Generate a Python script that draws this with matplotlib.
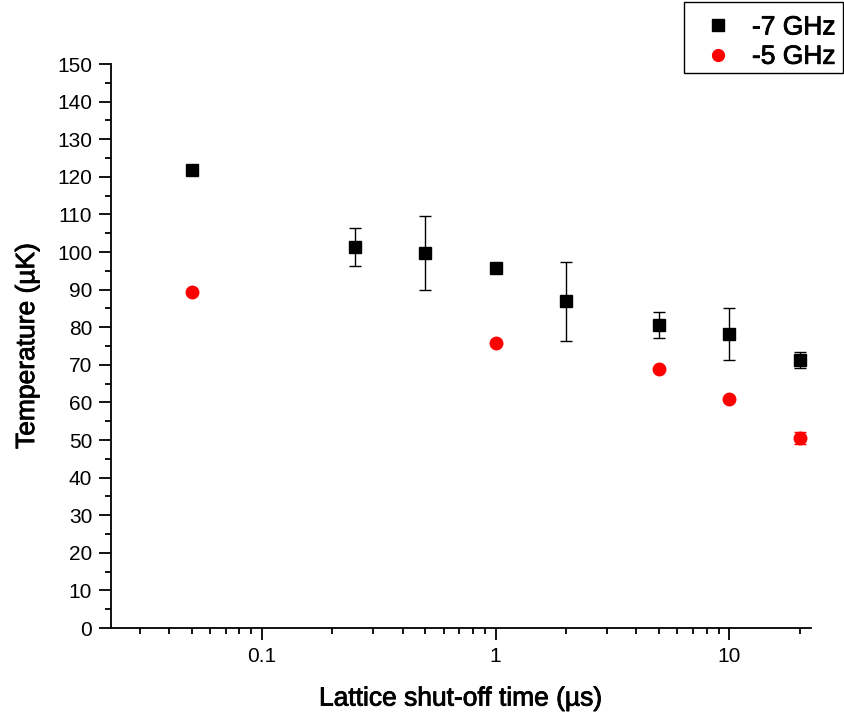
import matplotlib
matplotlib.use("Agg")
import matplotlib.pyplot as plt
import matplotlib.patheffects as pe
from matplotlib.lines import Line2D
from matplotlib.patches import Rectangle
from matplotlib.ticker import FixedLocator, LogLocator, NullFormatter, FuncFormatter

plt.rcParams['font.family'] = ['Liberation Sans', 'DejaVu Sans']

# Lattice shut-off time (µs) and measured temperatures (µK)
t_7ghz = [0.05, 0.25, 0.5, 1, 2, 5, 10, 20]
temp_7ghz = [121.8, 101.3, 99.8, 95.8, 86.9, 80.5, 78.2, 71.3]
err_7ghz = [0.0, 5.0, 9.9, 0.0, 10.5, 3.5, 7.0, 2.2]

t_5ghz = [0.05, 1, 5, 10, 20]
temp_5ghz = [89.4, 75.9, 68.9, 60.9, 50.5]
err_5ghz = [0.0, 0.0, 0.0, 0.0, 1.5]

y_ticks = list(range(0, 151, 10))
x_ticks = [0.1, 1, 10]
x_tick_labels = ['0.1', '1', '10']

heavy = [pe.withStroke(linewidth=0.6, foreground='black')]

W, H = 844, 716
fig = plt.figure(figsize=(W / 100, H / 100), dpi=100)
ax = fig.add_axes([0.1315, 0.1229, 0.8291, 0.7877])

ax.errorbar(t_7ghz, temp_7ghz, yerr=err_7ghz, fmt='s', color='black',
            markersize=8.5, ecolor='black', elinewidth=1.0, capsize=4.5,
            capthick=1.0, zorder=3)
ax.errorbar(t_5ghz, temp_5ghz, yerr=err_5ghz, fmt='o', color='#ff0000',
            markersize=9, ecolor='#ff0000', elinewidth=1.0, capsize=4.5,
            capthick=1.0, zorder=3)

ax.set_xscale('log')
ax.set_xlim(0.0226, 22.3)
ax.set_ylim(0, 150)

ax.xaxis.set_major_locator(FixedLocator(x_ticks))
ax.xaxis.set_major_formatter(FuncFormatter(lambda v, p: x_tick_labels[x_ticks.index(v)] if v in x_ticks else ''))
ax.xaxis.set_minor_locator(LogLocator(base=10, subs=range(2, 10), numticks=20))
ax.xaxis.set_minor_formatter(NullFormatter())

ax.yaxis.set_major_locator(FixedLocator(y_ticks))
ax.yaxis.set_minor_locator(FixedLocator([v + 5 for v in y_ticks[:-1]]))

for side in ('top', 'right'):
    ax.spines[side].set_visible(False)
for side in ('left', 'bottom'):
    ax.spines[side].set_linewidth(1.3)

ax.tick_params(which='major', direction='out', length=8.5, width=1.3,
               labelsize=15, colors='black', pad=5)
ax.tick_params(which='minor', direction='out', length=4.5, width=1.3)

ax.set_xlabel('Lattice shut-off time (\u00b5s)', fontsize=19, labelpad=15,
              path_effects=heavy)
ax.set_ylabel('Temperature (\u00b5K)', fontsize=19, labelpad=13,
              path_effects=heavy)

# Legend entries without a frame; the box is drawn separately
handles = [
    Line2D([], [], linestyle='none', marker='s', color='black', markersize=8),
    Line2D([], [], linestyle='none', marker='o', color='#ff0000', markersize=8.5),
]
leg = fig.legend(handles, ['-7 GHz', '-5 GHz'], loc='upper left',
                 bbox_to_anchor=(705 / W, 1 - 15.5 / H), fontsize=19,
                 frameon=False, borderpad=0.0, handletextpad=0.78,
                 labelspacing=0.2, handlelength=1.0, borderaxespad=0.0)
for txt in leg.get_texts():
    txt.set_path_effects(heavy)

fig.add_artist(Rectangle((684 / W, 1 - 73 / H), 159 / W, 71 / H,
                         transform=fig.transFigure, fill=False,
                         edgecolor='black', linewidth=1.0))

fig.savefig('out.png', dpi=100)
